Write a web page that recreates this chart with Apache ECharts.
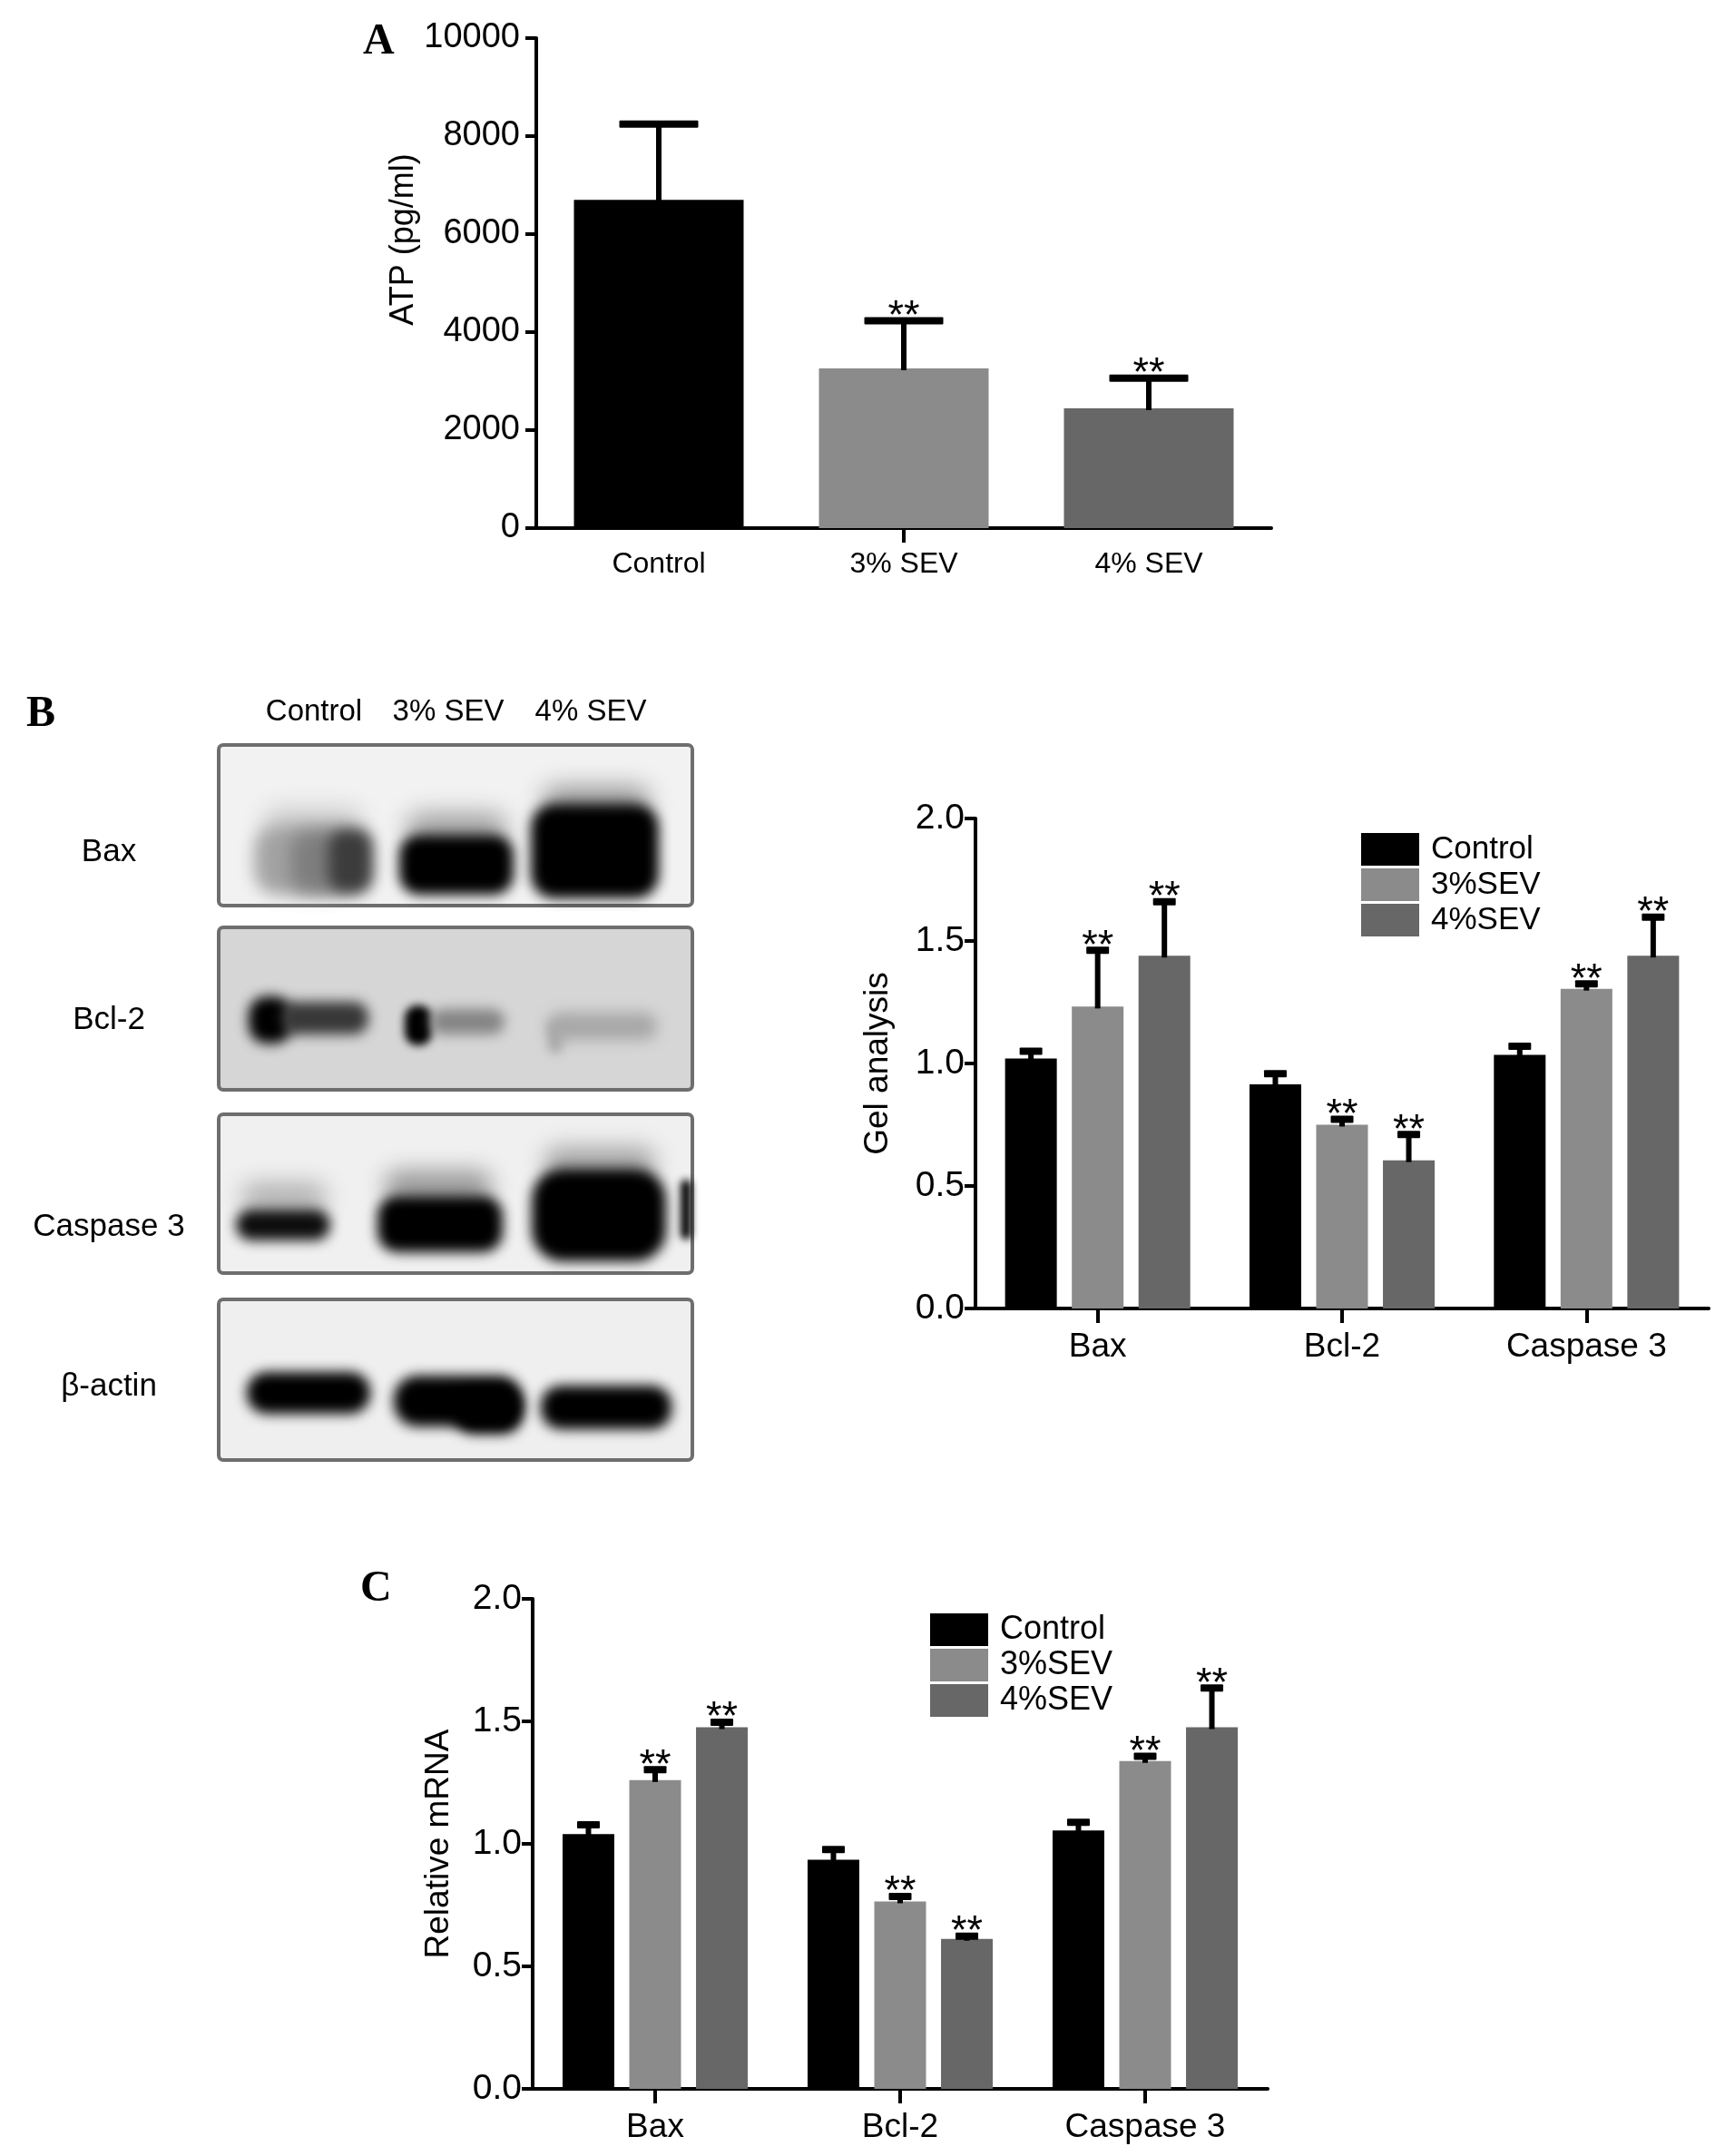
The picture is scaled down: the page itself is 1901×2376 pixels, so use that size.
<!DOCTYPE html>
<html>
<head>
<meta charset="utf-8">
<script src="https://cdn.jsdelivr.net/npm/echarts@6/dist/echarts.min.js"></script>
<style>
html,body{margin:0;padding:0;background:#fff;}
#chart{width:1901px;height:2376px;}
</style>
</head>
<body>
<div id="chart"></div>
<script>
// ---------- DATA ----------
const atpCategories = ['Control', '3% SEV', '4% SEV'];
const atpMean = [6700, 3260, 2445];
const atpSD = [1545, 970, 615];
const atpSig = [0, 1, 1];

const proteinCategories = ['Bax', 'Bcl-2', 'Caspase 3'];
const groupNames = ['Control', '3%SEV', '4%SEV'];
const groupSig = [0, 1, 1];

const gelControl = [1.02, 0.915, 1.035];
const gel3SEV = [1.232, 0.75, 1.305];
const gel4SEV = [1.44, 0.605, 1.44];
const gelControlSD = [0.03, 0.043, 0.035];
const gel3SEVSD = [0.23, 0.022, 0.02];
const gel4SEVSD = [0.22, 0.105, 0.157];

const mrnaControl = [1.04, 0.935, 1.055];
const mrna3SEV = [1.26, 0.765, 1.338];
const mrna4SEV = [1.476, 0.612, 1.476];
const mrnaControlSD = [0.038, 0.042, 0.033];
const mrna3SEVSD = [0.043, 0.02, 0.019];
const mrna4SEVSD = [0.02, 0.011, 0.16];

const atpTicks = [0, 2000, 4000, 6000, 8000, 10000];
const ratioTicks = [0.0, 0.5, 1.0, 1.5, 2.0];

// western blot (image content)
const blotRows = ['Bax', 'Bcl-2', 'Caspase 3', '\u03b2-actin'];
const blotLanes = ['Control', '3% SEV', '4% SEV'];

// ---------- STYLE ----------
const FONT = '"Liberation Sans", Arial, Helvetica, sans-serif';
const SERIF = '"Liberation Serif", "Times New Roman", serif';
const groupColors = ['#000000', '#8b8b8b', '#676767'];

const chart = echarts.init(document.getElementById('chart'), null, {renderer: 'canvas', width: 1901, height: 2376});

function errRender(offset, capW, capH, lineW, starSize) {
  return function (params, api) {
    const cat = api.value(0), mean = api.value(1), sd = api.value(2), sig = api.value(3);
    const p0 = api.coord([cat, mean]);
    const p1 = api.coord([cat, mean + sd]);
    const x = p0[0] + offset;
    const children = [
      {type: 'rect', shape: {x: x - lineW / 2, y: p1[1], width: lineW, height: p0[1] - p1[1] + 2}, style: {fill: '#000'}},
      {type: 'rect', shape: {x: x - capW / 2, y: p1[1] - capH / 2, width: capW, height: capH, r: 1}, style: {fill: '#000'}}
    ];
    if (sig) {
      children.push({type: 'text', x: x, y: p1[1] - capH / 2,
        style: {text: '**', fontSize: starSize, fontFamily: FONT, fill: '#000',
          align: 'center', verticalAlign: 'middle', textAlign: 'center', textVerticalAlign: 'middle'}});
    }
    return {type: 'group', children: children};
  };
}

function errData(means, sds, sig) {
  return means.map((m, i) => [i, m, sds[i], sig]);
}

const yAxisCommon = {
  type: 'value', min: 0,
  axisLine: {show: true, lineStyle: {color: '#000', width: 4}},
  axisTick: {show: true, length: 12, lineStyle: {color: '#000', width: 4}},
  splitLine: {show: false},
  nameLocation: 'middle',
  nameTextStyle: {color: '#000', fontFamily: FONT}
};
const xAxisCommon = {
  type: 'category',
  axisLine: {show: true, lineStyle: {color: '#000', width: 4}},
  axisTick: {show: true, alignWithLabel: true, length: 16, lineStyle: {color: '#000', width: 4}},
  splitLine: {show: false}
};

const BW = 57, BGAP = 0.29; // grouped bar width and gap
const PITCH = BW * (1 + BGAP);

const series = [];
// Panel A
series.push({
  type: 'bar', name: 'ATP', xAxisIndex: 0, yAxisIndex: 0, barWidth: 187,
  data: atpMean.map((v, i) => ({value: v, itemStyle: {color: groupColors[i]}}))
});
series.push({
  type: 'custom', name: 'atp-err', xAxisIndex: 0, yAxisIndex: 0, z: 5,
  renderItem: errRender(0, 87, 8, 6, 45),
  data: atpMean.map((m, i) => [i, m, atpSD[i], atpSig[i]])
});

// Panel B and C
const gelMeans = [gelControl, gel3SEV, gel4SEV];
const gelSDs = [gelControlSD, gel3SEVSD, gel4SEVSD];
const mrnaMeans = [mrnaControl, mrna3SEV, mrna4SEV];
const mrnaSDs = [mrnaControlSD, mrna3SEVSD, mrna4SEVSD];

[[1, gelMeans, gelSDs], [2, mrnaMeans, mrnaSDs]].forEach(([ax, means, sds]) => {
  groupNames.forEach((gname, gi) => {
    series.push({
      type: 'bar', name: gname, xAxisIndex: ax, yAxisIndex: ax, barWidth: BW, barGap: (BGAP * 100) + '%',
      itemStyle: {color: groupColors[gi]}, data: means[gi]
    });
  });
  groupNames.forEach((gname, gi) => {
    series.push({
      type: 'custom', name: 'err-' + ax + '-' + gi, xAxisIndex: ax, yAxisIndex: ax, z: 5,
      renderItem: errRender((gi - 1) * PITCH, 25, 8, 6, 45),
      data: errData(means[gi], sds[gi], groupSig[gi])
    });
  });
});

// ---------- BLOT GRAPHICS ----------
const g = [];
function txt(text, x, y, size, opts) {
  opts = opts || {};
  g.push({type: 'text', x: x, y: y, z: 10,
    style: {text: text, fontSize: size, fontFamily: opts.family || FONT, fontWeight: opts.weight || 'normal',
      fill: '#000', align: opts.align || 'center', verticalAlign: 'middle',
      textAlign: opts.align || 'center', textVerticalAlign: 'middle'}});
}
// panel letters
txt('A', 400, 47, 48, {family: SERIF, weight: 'bold', align: 'left'});
txt('B', 29, 788, 48, {family: SERIF, weight: 'bold', align: 'left'});
txt('C', 397, 1752, 48, {family: SERIF, weight: 'bold', align: 'left'});

// lane headers
const laneCenters = [346, 494, 651];
blotLanes.forEach((l, i) => txt(l, laneCenters[i], 785, 33));
// row labels
const rowLabelY = [939, 1124, 1352, 1528];
blotRows.forEach((r, i) => txt(r, 120, rowLabelY[i], 35));

// boxes
const boxes = [[821, 998, '#f2f2f2'], [1022, 1201, '#d6d6d6'], [1228, 1403, '#f0f0f0'], [1432, 1609, '#efefef']];
boxes.forEach(b => {
  g.push({type: 'rect', z: 1, shape: {x: 241, y: b[0], width: 522, height: b[1] - b[0], r: 5},
    style: {fill: b[2], stroke: '#6e6e6e', lineWidth: 4}});
});
// soft (blurred) band: the shape is drawn off-canvas; only its blurred shadow lands at (x, y)
const OFF = 3000;
function soft(x, y, w, h, r, color, blur) {
  g.push({type: 'rect', z: 2, silent: true, shape: {x: x - OFF, y: y, width: w, height: h, r: r},
    style: {fill: '#000', shadowBlur: blur, shadowColor: color, shadowOffsetX: OFF, shadowOffsetY: 0}});
}
// Bax
soft(290, 890, 110, 34, 16, '#cdcdcd', 26);
soft(280, 910, 128, 76, 26, '#a4a4a4', 18);
soft(320, 916, 60, 68, 20, '#7e7e7e', 20);
soft(362, 914, 48, 70, 18, '#3c3c3c', 16);
soft(448, 896, 110, 36, 16, '#a2a2a2', 26);
soft(440, 920, 126, 66, 22, '#000', 14);
soft(598, 866, 118, 36, 16, '#9c9c9c', 26);
soft(585, 886, 141, 104, 26, '#000', 14);
// Bcl-2
soft(274, 1098, 48, 52, 20, '#000', 14);
soft(310, 1104, 96, 36, 16, '#383838', 14);
soft(446, 1108, 30, 44, 14, '#000', 10);
soft(474, 1112, 82, 28, 14, '#858585', 14);
soft(604, 1116, 120, 30, 14, '#a8a8a8', 16);
soft(604, 1125, 16, 36, 8, '#a8a8a8', 12);
// Caspase 3
soft(266, 1303, 94, 34, 16, '#b4b4b4', 24);
soft(260, 1333, 104, 34, 17, '#0e0e0e', 14);
soft(424, 1290, 118, 36, 16, '#9a9a9a', 24);
soft(416, 1318, 138, 62, 22, '#000', 14);
soft(600, 1264, 122, 36, 16, '#a6a6a6', 24);
soft(586, 1288, 148, 102, 34, '#000', 14);
soft(750, 1300, 12, 66, 6, '#000', 8);
// beta-actin
soft(272, 1512, 136, 46, 22, '#000', 14);
soft(434, 1516, 142, 56, 26, '#000', 14);
soft(500, 1530, 76, 50, 22, '#000', 14);
soft(596, 1527, 144, 48, 22, '#000', 14);

const option = {
  backgroundColor: '#ffffff',
  animation: false,
  textStyle: {fontFamily: FONT, color: '#000'},
  grid: [
    {left: 591, top: 42, width: 810, height: 540},
    {left: 1075, top: 902, width: 808, height: 540},
    {left: 587, top: 1762, width: 810, height: 540}
  ],
  xAxis: [
    Object.assign({}, xAxisCommon, {gridIndex: 0, data: atpCategories,
      axisTick: {show: true, alignWithLabel: true, length: 16, interval: (i) => i === 1, lineStyle: {color: '#000', width: 4}},
      axisLabel: {fontSize: 32, margin: 24, color: '#000', fontFamily: FONT}}),
    Object.assign({}, xAxisCommon, {gridIndex: 1, data: proteinCategories,
      axisLabel: {fontSize: 37, margin: 24, color: '#000', fontFamily: FONT}}),
    Object.assign({}, xAxisCommon, {gridIndex: 2, data: proteinCategories,
      axisLabel: {fontSize: 37, margin: 24, color: '#000', fontFamily: FONT}})
  ],
  yAxis: [
    Object.assign({}, yAxisCommon, {gridIndex: 0, max: atpTicks[atpTicks.length - 1], interval: atpTicks[1] - atpTicks[0],
      name: 'ATP (pg/ml)', nameGap: 112, nameTextStyle: {fontSize: 36, color: '#000', fontFamily: FONT, padding: [0, 0, 0, 96]},
      axisLabel: {fontSize: 38, margin: 18, color: '#000', fontFamily: FONT, formatter: v => String(v)}}),
    Object.assign({}, yAxisCommon, {gridIndex: 1, max: ratioTicks[ratioTicks.length - 1], interval: ratioTicks[1] - ratioTicks[0],
      name: 'Gel analysis', nameGap: 89, nameTextStyle: {fontSize: 37, color: '#000', fontFamily: FONT},
      axisLabel: {fontSize: 39, margin: 12, color: '#000', fontFamily: FONT, formatter: v => v.toFixed(1)}}),
    Object.assign({}, yAxisCommon, {gridIndex: 2, max: ratioTicks[ratioTicks.length - 1], interval: ratioTicks[1] - ratioTicks[0],
      name: 'Relative mRNA', nameGap: 85, nameTextStyle: {fontSize: 37, color: '#000', fontFamily: FONT},
      axisLabel: {fontSize: 39, margin: 12, color: '#000', fontFamily: FONT, formatter: v => v.toFixed(1)}})
  ],
  legend: [
    {data: groupNames, orient: 'vertical', left: 1495, top: 913, itemWidth: 64, itemHeight: 36, itemGap: 3,
      icon: 'rect', selectedMode: false,
      textStyle: {fontSize: 35, color: '#000', fontFamily: FONT, padding: [0, 0, 0, 8], lineHeight: 36}},
    {data: groupNames, orient: 'vertical', left: 1020, top: 1773, itemWidth: 64, itemHeight: 36, itemGap: 3,
      icon: 'rect', selectedMode: false,
      textStyle: {fontSize: 36, color: '#000', fontFamily: FONT, padding: [0, 0, 0, 8], lineHeight: 36}}
  ],
  graphic: {elements: g},
  series: series
};
chart.setOption(option);
</script>
</body>
</html>
